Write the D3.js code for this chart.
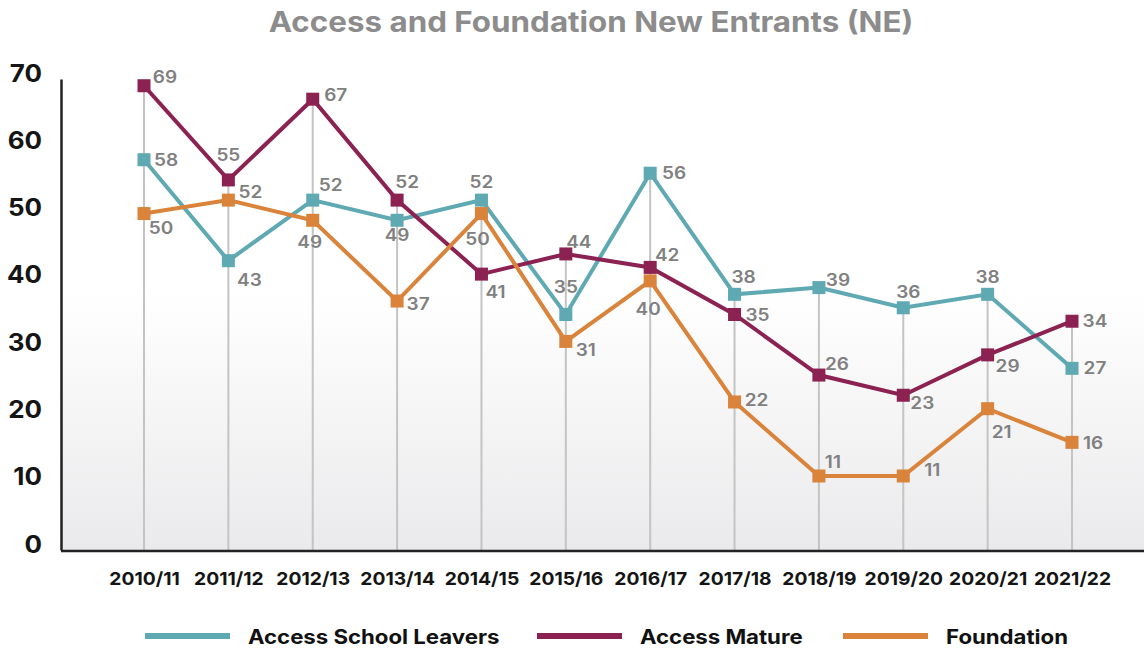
<!DOCTYPE html>
<html>
<head>
<meta charset="utf-8">
<script src="https://cdn.jsdelivr.net/npm/d3@7"></script>
<style>
  html, body { margin: 0; padding: 0; background: #fff; }
  svg { display: block; font-family: Inter, "Noto Sans", sans-serif; }
</style>
</head>
<body>
<div id="chart"></div>
<script>
const YEARS = ['2010/11', '2011/12', '2012/13', '2013/14', '2014/15', '2015/16',
               '2016/17', '2017/18', '2018/19', '2019/20', '2020/21', '2021/22'];
const SCHOOL_LEAVERS = [58, 43, 52, 49, 52, 35, 56, 38, 39, 36, 38, 27];
const MATURE         = [69, 55, 67, 52, 41, 44, 42, 35, 26, 23, 29, 34];
const FOUNDATION     = [50, 52, 49, 37, 50, 31, 40, 22, 11, 11, 21, 16];
const Y_TICKS = [0, 10, 20, 30, 40, 50, 60, 70];

// label nudges (centre offset from marker, px) so the value labels dodge the lines
const NUDGE_SCHOOL = [[22, 0], [21, 19], [18, -15], [0, 15], [0, -18], [0, -28],
                      [24, 0], [9, -17], [19, -8], [5, -16], [0, -17], [23, 0]];
const NUDGE_MATURE = [[21, -9], [0, -25], [23, -4], [10, -18], [14, 18], [13, -12],
                      [17, -12], [23, 0], [18, -11], [19, 8], [20, 11], [23, 0]];
const NUDGE_FOUND  = [[17, 14], [22, -8], [-3, 22], [21, 3], [-4, 25], [20, 9],
                      [-2, 28], [22, -2], [14, -14], [29, -6], [14, 23], [21, 1]];

const series = [
    { name: 'Access School Leavers', color: '#5fa9b2', values: SCHOOL_LEAVERS, nudge: NUDGE_SCHOOL },
    { name: 'Access Mature',         color: '#8b2252', values: MATURE,         nudge: NUDGE_MATURE },
    { name: 'Foundation',            color: '#d9833b', values: FOUNDATION,     nudge: NUDGE_FOUND },
];

const W = 1144, H = 653;
const plot = { left: 61, right: 1144, top: 79, bottom: 551 };

const svg = d3.select('#chart').append('svg')
    .attr('width', W).attr('height', H);

// the source chart's type is a little wider than Inter, so stretch text horizontally
const stretch = (sel, sx) => sel.each(function() {
    const t = d3.select(this);
    const x = +t.attr('x') || 0, y = +t.attr('y') || 0;
    t.attr('x', 0).attr('y', 0)
     .attr('transform', `translate(${x},${y}) scale(${sx},1)`);
});

const grad = svg.append('defs').append('linearGradient')
    .attr('id', 'bgGrad').attr('x1', 0).attr('y1', 0).attr('x2', 0).attr('y2', 1);
grad.append('stop').attr('offset', '0%').attr('stop-color', '#ffffff');
grad.append('stop').attr('offset', '45%').attr('stop-color', '#ffffff');
grad.append('stop').attr('offset', '100%').attr('stop-color', '#eaeaec');

svg.append('rect')
    .attr('x', plot.left).attr('y', plot.top)
    .attr('width', plot.right - plot.left).attr('height', plot.bottom - plot.top)
    .attr('fill', 'url(#bgGrad)');

const x = d3.scalePoint().domain(YEARS).range([144, 1072]);
const y = d3.scaleLinear().domain([0, 70]).range([550, 79]);

// title
svg.append('text')
    .attr('x', 591).attr('y', 32)
    .attr('text-anchor', 'middle')
    .style('font-size', '28px').style('font-weight', 700)
    .style('fill', '#8c8c8c')
    .text('Access and Foundation New Entrants (NE)')
    .call(stretch, 1.12);

// drop lines from the highest marker down to the axis
YEARS.forEach((yr, i) => {
    const top = d3.max(series, s => s.values[i]);
    svg.append('line')
        .attr('x1', x(yr)).attr('x2', x(yr))
        .attr('y1', y(top)).attr('y2', plot.bottom)
        .attr('stroke', '#c4c4c4').attr('stroke-width', 2);
});

// axes
const yAxis = svg.append('g')
    .attr('transform', `translate(${plot.left},0)`)
    .call(d3.axisLeft(y).tickValues(Y_TICKS).tickSize(0).tickPadding(20));
yAxis.select('.domain').attr('stroke', '#222').attr('stroke-width', 2.5);
yAxis.selectAll('.tick text')
    .attr('dy', null)
    .attr('y', 2)
    .attr('x', -19)
    .style('font-size', '24px').style('font-weight', 700)
    .style('font-family', 'Inter, sans-serif').style('fill', '#151515')
    .call(stretch, 1.08);

const xAxis = svg.append('g')
    .attr('transform', `translate(0,${plot.bottom})`)
    .call(d3.axisBottom(x).tickSize(0).tickPadding(20));
xAxis.select('.domain').attr('d', `M${plot.left},0H${plot.right}`)
    .attr('stroke', '#222').attr('stroke-width', 2.5);
xAxis.selectAll('.tick text')
    .attr('dy', null)
    .attr('y', 34)
    .style('font-size', '18px').style('font-weight', 700)
    .style('font-family', 'Inter, sans-serif').style('fill', '#151515')
    .call(stretch, 1.07);

const line = d3.line().x((d, i) => x(YEARS[i])).y(d => y(d));

series.forEach(s => {
    const g = svg.append('g');
    g.append('path')
        .datum(s.values)
        .attr('d', line)
        .attr('fill', 'none')
        .attr('stroke', s.color)
        .attr('stroke-width', 4);
    g.selectAll('rect')
        .data(s.values)
        .join('rect')
        .attr('x', (d, i) => x(YEARS[i]) - 6.5)
        .attr('y', d => y(d) - 6.5)
        .attr('width', 13).attr('height', 13)
        .attr('fill', s.color);
});

series.forEach(s => {
    svg.append('g').selectAll('text')
        .data(s.values)
        .join('text')
        .attr('x', (d, i) => x(YEARS[i]) + s.nudge[i][0])
        .attr('y', (d, i) => y(d) + s.nudge[i][1] + 6)
        .attr('text-anchor', 'middle')
        .style('font-size', '17px').style('font-weight', 600)
        .style('fill', '#808080')
        .text(d => d)
        .call(stretch, 1.12);
});

// legend
const legendX = [145, 537, 843];
const legend = svg.append('g');
series.forEach((s, i) => {
    legend.append('line')
        .attr('x1', legendX[i]).attr('x2', legendX[i] + 85)
        .attr('y1', 636).attr('y2', 636)
        .attr('stroke', s.color).attr('stroke-width', 6);
    legend.append('text')
        .attr('x', legendX[i] + 103).attr('y', 644)
        .style('font-size', '20px').style('font-weight', 700)
        .style('fill', '#111')
        .text(s.name)
        .call(stretch, 1.11);
});
</script>
</body>
</html>
